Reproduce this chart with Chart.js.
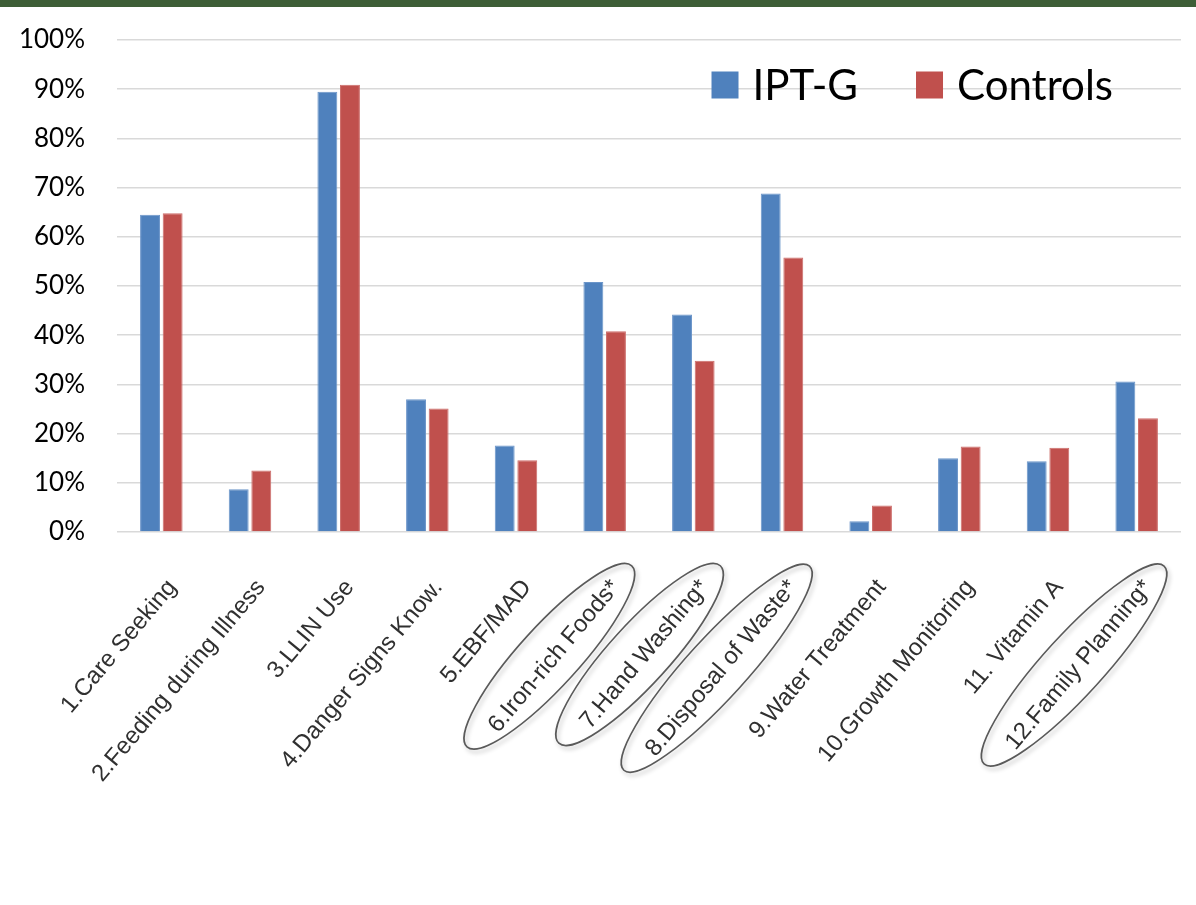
<!DOCTYPE html>
<html>
<head>
<meta charset="utf-8">
<script src="https://cdn.jsdelivr.net/npm/chart.js@4.4.1/dist/chart.umd.min.js"></script>
<style>
  html, body { margin: 0; padding: 0; background: #ffffff; }
  #wrap { position: relative; width: 1196px; height: 905px; }
  #band { position: absolute; left: 0; top: 0; width: 1196px; height: 7px; background: #3e5e37; }
  canvas { display: block; }
</style>
</head>
<body>
<div id="wrap">
  <canvas id="chart" width="1196" height="905"></canvas>
  <div id="band"></div>
</div>
<script>
// Practice categories (an asterisk marks a significant difference)
const categories = [
  '1.Care Seeking',
  '2.Feeding during Illness',
  '3.LLIN Use',
  '4.Danger Signs Know.',
  '5.EBF/MAD',
  '6.Iron-rich Foods*',
  '7.Hand Washing*',
  '8.Disposal of Waste*',
  '9.Water Treatment',
  '10.Growth Monitoring',
  '11. Vitamin A',
  '12.Family Planning*'
];

// Percent of respondents per group
const iptG     = [64.5, 8.7, 89.5, 27.0, 17.6, 50.8, 44.2, 68.8, 2.2, 15.0, 14.4, 30.6];
const controls = [64.8, 12.5, 90.9, 25.1, 14.6, 40.8, 34.8, 55.8, 5.4, 17.4, 17.1, 23.1];

// Value axis ticks
const yTickValues = [0, 10, 20, 30, 40, 50, 60, 70, 80, 90, 100];
const yTickLabels = yTickValues.map(v => v + '%');

const seriesNames = ['IPT-G', 'Controls'];
const seriesColors = ['#4f81bd', '#c0504d'];

const LABEL_SIZE = 24;
const LABEL_FONT = LABEL_SIZE + 'px "Liberation Sans", Arial, sans-serif';
const LABEL_ROT = 50;
const LABEL_PAD = 34;
const LABEL_SHIFT = 11;

// Legend drawn inside the plot area, top right
const insideLegend = {
  id: 'insideLegend',
  afterDraw(chart) {
    const ctx = chart.ctx;
    const area = chart.chartArea;
    ctx.save();
    ctx.font = '42px Lato, "Open Sans", sans-serif';
    ctx.textBaseline = 'middle';
    const box = 27, gapText = 14, gapItem = 58;
    const cy = area.top + 45;
    const widths = chart.data.datasets.map(d => ctx.measureText(d.label).width);
    let total = 0;
    widths.forEach((w, i) => { total += box + gapText + w + (i < widths.length - 1 ? gapItem : 0); });
    let x = area.right - 68 - total;
    chart.data.datasets.forEach((d, i) => {
      ctx.fillStyle = d.backgroundColor;
      ctx.fillRect(x, cy - box / 2, box, box);
      x += box + gapText;
      ctx.fillStyle = '#000000';
      ctx.textAlign = 'left';
      ctx.fillText(d.label, x, cy + 1);
      x += widths[i] + gapItem;
    });
    ctx.restore();
  }
};

// Center of a rotated tick label, from the scale's own label layout
function labelCenter(item, ctx) {
  const [x, y] = item.options.translation;
  const rot = item.options.rotation;
  const w = ctx.measureText(item.label).width;
  let dy = item.textOffset;
  const base = item.options.textBaseline;
  if (base === 'top') dy += LABEL_SIZE * 0.55;
  else if (base === 'bottom') dy -= LABEL_SIZE * 0.55;
  const align = item.options.textAlign;
  const dx = align === 'right' ? -w / 2 : (align === 'left' ? w / 2 : 0);
  return {
    x: x + dx * Math.cos(rot) - dy * Math.sin(rot),
    y: y + dx * Math.sin(rot) + dy * Math.cos(rot),
    w
  };
}

// Outline ellipses around the significant category labels
const labelRings = {
  id: 'labelRings',
  afterDraw(chart) {
    const xs = chart.scales.x;
    const ctx = chart.ctx;
    const items = xs.getLabelItems();
    ctx.save();
    ctx.font = LABEL_FONT;
    items.forEach((item, i) => {
      if (!categories[i].endsWith('*')) return;
      const c = labelCenter(item, ctx);
      ctx.save();
      ctx.translate(c.x - 5, c.y);
      ctx.rotate(-47.7 * Math.PI / 180);
      ctx.beginPath();
      ctx.ellipse(0, 0, c.w / 2 + 27, 30, 0, 0, Math.PI * 2);
      ctx.shadowColor = 'rgba(0,0,0,0.25)';
      ctx.shadowBlur = 4;
      ctx.shadowOffsetX = 2;
      ctx.shadowOffsetY = 3;
      ctx.lineWidth = 1.6;
      ctx.strokeStyle = '#5a5a5a';
      ctx.stroke();
      ctx.restore();
    });
    ctx.restore();
  }
};

new Chart(document.getElementById('chart'), {
  type: 'bar',
  data: {
    labels: categories,
    datasets: [
      { label: seriesNames[0], data: iptG, backgroundColor: seriesColors[0], borderColor: '#6b95c9', borderWidth: 1 },
      { label: seriesNames[1], data: controls, backgroundColor: seriesColors[1], borderColor: '#cd6d6a', borderWidth: 1 }
    ]
  },
  options: {
    responsive: false,
    animation: false,
    devicePixelRatio: 1,
    layout: { padding: { top: 40, right: 15, left: 0, bottom: 0 } },
    datasets: { bar: { categoryPercentage: 0.51, barPercentage: 0.88 } },
    plugins: {
      legend: { display: false },
      tooltip: { enabled: false }
    },
    scales: {
      x: {
        grid: { display: false },
        border: { display: false },
        ticks: {
          autoSkip: false,
          minRotation: LABEL_ROT,
          maxRotation: LABEL_ROT,
          padding: LABEL_PAD,
          labelOffset: LABEL_SHIFT,
          color: '#303030',
          font: { family: '"Liberation Sans", Arial, sans-serif', size: LABEL_SIZE }
        },
        afterFit(scale) { scale.height = 373; }
      },
      y: {
        min: 0,
        max: 100,
        grid: { color: '#d9d9d9', lineWidth: 1.5, drawTicks: false },
        border: { display: false },
        afterBuildTicks(scale) { scale.ticks = yTickValues.map(v => ({ value: v })); },
        ticks: {
          padding: 32,
          color: '#000000',
          font: { family: 'Lato, "Open Sans", sans-serif', size: 26 },
          callback: (v) => yTickLabels[yTickValues.indexOf(v)]
        },
        afterFit(scale) {
          scale.width = 117;
          scale.paddingTop = 0;
          scale.paddingBottom = 0;
        }
      }
    }
  },
  plugins: [insideLegend, labelRings]
});
</script>
</body>
</html>
